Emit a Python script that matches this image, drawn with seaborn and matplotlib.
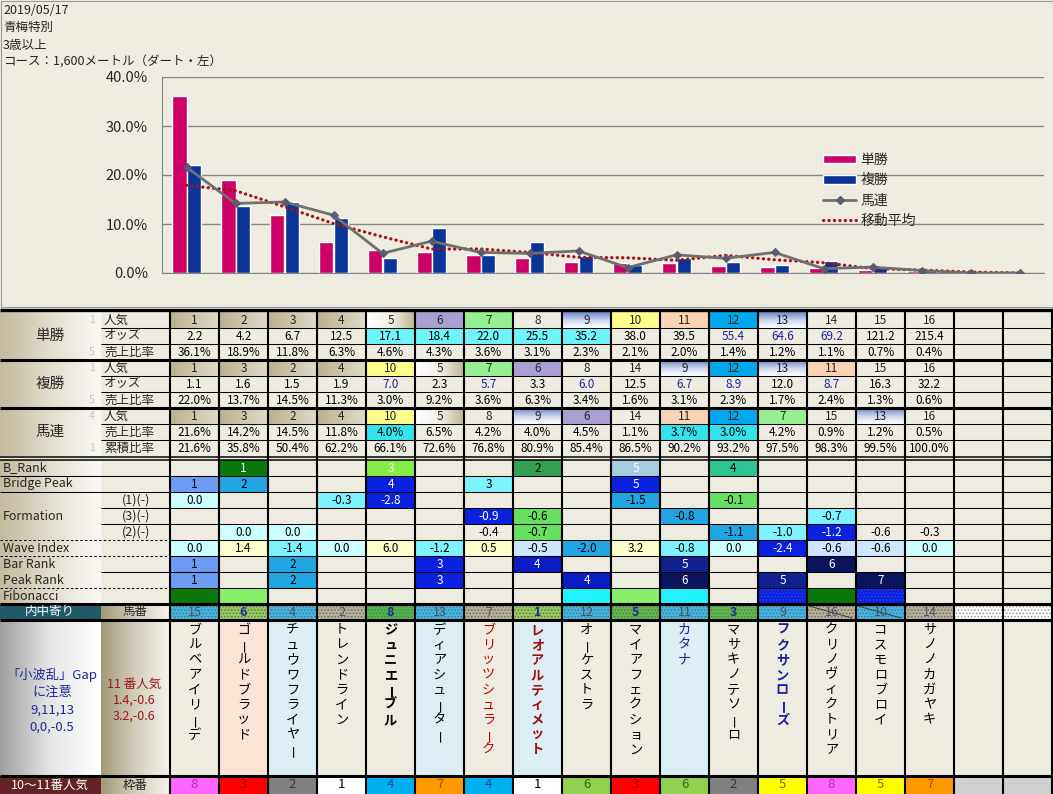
import numpy as np
import pandas as pd
import matplotlib
matplotlib.use("Agg")
import matplotlib.pyplot as plt
from matplotlib.patches import Rectangle, Patch
from matplotlib.lines import Line2D
from matplotlib.colors import LinearSegmentedColormap
import seaborn as sns

sns.set_style("white")
plt.rcParams["font.family"] = ["Noto Sans CJK JP", "DejaVu Sans"]
plt.rcParams["hatch.linewidth"] = 0.7

# ---------------- data ----------------
race_info = ["2019/05/17", "青梅特別", "3歳以上", "コース：1,600メートル（ダート・左）"]
cats = [str(i) for i in range(1, 19)]

win_pop = [1, 2, 3, 4, 5, 6, 7, 8, 9, 10, 11, 12, 13, 14, 15, 16]
win_odds = ["2.2", "4.2", "6.7", "12.5", "17.1", "18.4", "22.0", "25.5", "35.2",
            "38.0", "39.5", "55.4", "64.6", "69.2", "121.2", "215.4"]
win_ratio = [36.1, 18.9, 11.8, 6.3, 4.6, 4.3, 3.6, 3.1, 2.3, 2.1, 2.0, 1.4, 1.2, 1.1, 0.7, 0.4]

place_pop = [1, 3, 2, 4, 10, 5, 7, 6, 8, 14, 9, 12, 13, 11, 15, 16]
place_odds = ["1.1", "1.6", "1.5", "1.9", "7.0", "2.3", "5.7", "3.3", "6.0",
              "12.5", "6.7", "8.9", "12.0", "8.7", "16.3", "32.2"]
place_ratio = [22.0, 13.7, 14.5, 11.3, 3.0, 9.2, 3.6, 6.3, 3.4, 1.6, 3.1, 2.3, 1.7, 2.4, 1.3, 0.6]

quin_pop = [1, 3, 2, 4, 10, 5, 8, 9, 6, 14, 11, 12, 7, 15, 13, 16]
quin_ratio = [21.6, 14.2, 14.5, 11.8, 4.0, 6.5, 4.2, 4.0, 4.5, 1.1, 3.7, 3.0, 4.2, 0.9, 1.2, 0.5]
quin_cum = [21.6, 35.8, 50.4, 62.2, 66.1, 72.6, 76.8, 80.9, 85.4, 86.5, 90.2, 93.2, 97.5, 98.3, 99.5, 100.0]

# line series in the chart (18 slots, last two empty horses at 0)
quin_line = [21.6, 14.2, 14.5, 11.8, 4.0, 6.5, 4.2, 4.0, 4.5, 1.1, 3.7, 3.0, 4.2, 0.9, 1.2, 0.5, 0.0, 0.0]
ma_line = [17.9, 16.8, 13.5, 10.1, 7.4, 4.9, 4.9, 4.2, 3.2, 3.1, 2.6, 3.6, 2.7, 2.1, 0.9, 0.6, 0.2, 0.0]

b_rank = ["", "1", "", "", "3", "", "", "2", "", "5", "", "4", "", "", "", ""]
bridge_peak = ["1", "2", "", "", "4", "", "3", "", "", "5", "", "", "", "", "", ""]
form1 = ["0.0", "", "", "-0.3", "-2.8", "", "", "", "", "-1.5", "", "-0.1", "", "", "", ""]
form3 = ["", "", "", "", "", "", "-0.9", "-0.6", "", "", "-0.8", "", "", "-0.7", "", ""]
form2 = ["", "0.0", "0.0", "", "", "", "-0.4", "-0.7", "", "", "", "-1.1", "-1.0", "-1.2", "-0.6", "-0.3"]
wave_index = ["0.0", "1.4", "-1.4", "0.0", "6.0", "-1.2", "0.5", "-0.5", "-2.0", "3.2",
              "-0.8", "0.0", "-2.4", "-0.6", "-0.6", "0.0"]
bar_rank = ["1", "", "2", "", "", "3", "", "4", "", "", "5", "", "", "6", "", ""]
peak_rank = ["1", "", "2", "", "", "3", "", "", "4", "", "6", "", "5", "", "7", ""]

umaban = [15, 6, 4, 2, 8, 13, 7, 1, 12, 5, 11, 3, 9, 16, 10, 14]
waku = [8, 3, 2, 1, 4, 7, 4, 1, 6, 3, 6, 2, 5, 8, 5, 7]
horse_names = ["ブルベアイリーデ", "ゴールドブラッド", "チュウワフライヤー", "トレンドライン",
               "ジュニエーブル", "ディアシューター", "ブリッツシュラーク", "レオアルティメット",
               "オーケストラ", "マイアフェクション", "カタナ", "マサキノテソーロ",
               "フクサンローズ", "クリノヴィクトリア", "コスモロブロイ", "サノノカガヤキ"]
note_left = ["「小波乱」Gap", "に注意", "9,11,13", "0,0,-0.5"]
note_right = ["11 番人気", "1.4,-0.6", "3.2,-0.6"]

# ---------------- styles ----------------
BG = "#EEECE1"
PINK, NAVY = "#CC0066", "#0A3497"
C = {"lc": "#CCFFFF", "cy": "#7DF3FF", "sk": "#1FA6E3", "co": "#6B9CF2", "bl": "#0A22E0",
     "b2": "#0A1CC4", "nv": "#10208F", "dn": "#0A145E", "ye": "#FFFFCC", "lb": "#CCE6FF",
     "gr": "#66E060", "lg": "#88F06A", "dg": "#0A780A", "te": "#2CC490", "pa": "#A4CDE0",
     "bg": "#35A050", "li": "#84EE46", "cf": "#22F2FF", "": None}
DARK = {"bl", "b2", "nv", "dn", "dg", "li", "pa"}

b_rank_c = ["", "dg", "", "", "li", "", "", "bg", "", "pa", "", "te", "", "", "", ""]
bridge_c = ["co", "sk", "", "", "bl", "", "cy", "", "", "bl", "", "", "", "", "", ""]
form1_c = ["lc", "", "", "cy", "bl", "", "", "", "", "sk", "", "gr", "", "", "", ""]
form3_c = ["", "", "", "", "", "", "bl", "gr", "", "", "sk", "", "", "cy", "", ""]
form2_c = ["", "lc", "lc", "", "", "", "", "gr", "", "", "", "sk", "cy", "bl", "", ""]
wave_c = ["lc", "ye", "cy", "lc", "ye", "cy", "ye", "lb", "sk", "ye", "cy", "lc", "bl", "lb", "lb", "lc"]
bar_c = ["co", "", "sk", "", "", "bl", "", "b2", "", "", "nv", "", "", "dn", "", ""]
peak_c = ["co", "", "sk", "", "", "bl", "", "", "b2", "", "dn", "", "nv", "", "dn", ""]
fib_c = ["dg", "lg", "", "", "", "", "", "", "cf", "lg", "cf", "", "bl", "dg", "bl", ""]

POP_STYLE = {1: "tan", 2: "tan", 3: "tan", 4: "tan", 5: "tanw", 6: "#A99FD0", 7: "#96F092",
             9: "bgrad", 10: "#FFFF8C", 11: "#FAD3B4", 12: "#04A8EE", 13: "bgrad"}
UMA_C = ["#3CB6EA", "#94CC5C", "#3CB6EA", "#B8B098", "#4CB848", "#3CB6EA", "#B8B098", "#94CC5C",
         "#3CB6EA", "#5CBA48", "#3CB6EA", "#5CBA48", "#3CB6EA", "#B8B098", "#3CB6EA", "#B8B098"]
UMA_HI = {6, 8, 1, 5, 3}
WAKU_C = {1: "#FFFFFF", 2: "#808080", 3: "#FF0000", 4: "#00B0F0", 5: "#FFFF00",
          6: "#92D050", 7: "#FF9900", 8: "#FF66FF"}
WAKU_T = {1: "#000000", 2: "#3A3A3A", 3: "#A00000", 4: "#1A4A8A", 5: "#707000",
          6: "#3A6020", 7: "#9A5000", 8: "#B030B0"}
NAME_BG = {1: "#FBE4D5", 2: "#DAEEF3", 5: "#DAEEF3", 7: "#DAEEF3", 10: "#DAEEF3"}
NAME_STYLE = {4: ("#000000", "bold"), 6: ("#C00000", "normal"), 7: ("#A01010", "bold"),
              10: ("#1F1F9F", "normal"), 12: ("#1F1F9F", "bold")}
TAN_G = ["#C3BB9C", "#E2DDCE", "#FAF9F5"]
TAN2_G = ["#A39A78", "#D3CEBC", "#F4F2EC"]

# ---------------- figure ----------------
fig = plt.figure(figsize=(10.53, 7.94), dpi=100, facecolor=BG)
tb = fig.add_axes([0, 0, 1, 1])
tb.axis("off")

CW, RH = 49, 16
X_SUB, X_DAT, X_END = 101, 170, 1052


def cx(j):
    return X_DAT + CW * j


def box(x, y, w, h, fc, hatch=None, hc="#333333"):
    if fc:
        tb.add_patch(Rectangle((x, y), w, h, facecolor=fc, edgecolor="none", lw=0, zorder=1))
    if hatch:
        tb.add_patch(Rectangle((x, y), w, h, facecolor="none", edgecolor=hc, lw=0,
                               hatch=hatch, zorder=1.5))


def grad(x, y, w, h, colors, vertical=False):
    cmap = LinearSegmentedColormap.from_list("g", colors)
    arr = np.linspace(0, 1, 64)
    arr = arr[:, None] if vertical else arr[None, :]
    tb.imshow(arr, cmap=cmap, extent=(x, x + w, y + h, y), aspect="auto",
              interpolation="bilinear", origin="upper", zorder=1)


def txt(x, y, s, size=8.5, ha="center", **kw):
    tb.text(x, y, s, ha=ha, va="center", fontsize=size, zorder=5, **kw)


def hline(y, x0, x1, lw=0.75, ls="-"):
    tb.plot([x0, x1], [y, y], color="black", lw=lw, ls=ls, zorder=4, solid_capstyle="butt")


# top info
for k, s in enumerate(race_info):
    txt(3, 10 + 17.5 * k, s, size=9, ha="left")
tb.add_patch(Rectangle((0.5, 0.5), 1052, 306.5, facecolor="none", edgecolor="#9A9A9A", lw=0.8, zorder=4))

# --- upper table (odds / ratios) ---
def pop_cell(j, y, p):
    st = POP_STYLE.get(p)
    x = cx(j)
    if st == "tan":
        grad(x, y, CW, RH, ["#BBB18C", "#CDC6AA", "#E0DBC8"])
    elif st == "tanw":
        grad(x, y, CW, RH, ["#FFFFFF", "#F3F1EA", "#BFB692"])
    elif st == "bgrad":
        grad(x, y, CW, RH, ["#6A88C6", "#C9D5EC", "#FFFFFF"], vertical=True)
    elif st:
        box(x, y, CW, RH, st)
    txt(x + CW / 2, y + RH / 2, str(p))


def val_row(y, vals, bgs=(), bg="#70F4FC", blue=(), fmt="{}"):
    for j, v in enumerate(vals):
        x = cx(j)
        if j in bgs:
            box(x, y, CW, RH, bg)
        txt(x + CW / 2, y + RH / 2, fmt.format(v), color="#1F1F9F" if j in blue else "black")


blocks = [("単勝", ["人気", "オッズ", "売上比率"], ["1", "", "5"]),
          ("複勝", ["人気", "オッズ", "売上比率"], ["1", "", "5"]),
          ("馬連", ["人気", "売上比率", "累積比率"], ["4", "", "1"])]
Y0 = 312
for b, (name, rows, small) in enumerate(blocks):
    yb = Y0 + 3 * RH * b
    grad(0, yb, X_SUB, 3 * RH, TAN_G)
    txt(50, yb + 1.5 * RH, name, size=10.5)
    for r in range(3):
        txt(104, yb + r * RH + RH / 2, rows[r], ha="left", size=9)
        if small[r]:
            txt(92, yb + r * RH + RH / 2, small[r], size=7.5, color="#C4C4C4")

for j in range(16):
    pop_cell(j, Y0, win_pop[j])
    pop_cell(j, Y0 + 3 * RH, place_pop[j])
    pop_cell(j, Y0 + 6 * RH, quin_pop[j])
val_row(Y0 + RH, win_odds, bgs=range(4, 9), blue={11, 12, 13})
val_row(Y0 + 2 * RH, win_ratio, fmt="{:.1f}%")
val_row(Y0 + 4 * RH, place_odds, blue={4, 6, 8, 10, 11, 13})
val_row(Y0 + 5 * RH, place_ratio, fmt="{:.1f}%")
val_row(Y0 + 7 * RH, quin_ratio, bgs={4, 10, 11}, bg="#33E4EE", fmt="{:.1f}%")
val_row(Y0 + 8 * RH, quin_cum, fmt="{:.1f}%")

for r in [1, 2, 4, 5, 7, 8]:
    hline(Y0 + r * RH, X_SUB, X_END)
hline(309.5, 0, 1053, lw=2.4)
for r in [3, 6]:
    hline(Y0 + r * RH, 0, 1053, lw=2.2)
hline(456.5, 0, 1053, lw=1.1)
hline(459.5, 0, 1053, lw=1.1)

# --- lower table (indices) ---
Y1 = 460
grad(0, Y1, X_SUB, 9 * RH, TAN_G)
low_rows = [(b_rank, b_rank_c), (bridge_peak, bridge_c), (form1, form1_c), (form3, form3_c),
            (form2, form2_c), (wave_index, wave_c), (bar_rank, bar_c), (peak_rank, peak_c),
            ([""] * 16, fib_c)]
for r, (vals, cols) in enumerate(low_rows):
    y = Y1 + r * RH
    for j in range(16):
        key = cols[j]
        if key:
            box(cx(j), y, CW, RH, C[key], hatch="....." if (r == 8 and key == "bl") else None,
                hc="#2845F0")
        if vals[j]:
            txt(cx(j) + CW / 2, y + RH / 2, vals[j], color="white" if key in DARK else "black")

for r, lab in [(0, "B_Rank"), (1, "Bridge Peak"), (3, "Formation"), (5, "Wave Index"),
               (6, "Bar Rank"), (7, "Peak Rank"), (8, "Fibonacci")]:
    txt(3, Y1 + r * RH + RH / 2, lab, size=9, ha="left")
for r, lab in [(2, "(1)(-)"), (3, "(3)(-)"), (4, "(2)(-)")]:
    txt(136, Y1 + r * RH + RH / 2, lab, size=9)

hline(Y1 + RH, 0, X_END)
hline(Y1 + 2 * RH, 0, X_END)
hline(Y1 + 3 * RH, X_SUB, X_END)
hline(Y1 + 4 * RH, X_SUB, X_END)
hline(Y1 + 7 * RH, X_SUB, X_END)
for r in [5, 6, 8]:
    hline(Y1 + r * RH, 0, X_DAT, ls=(0, (2.5, 2)))
    hline(Y1 + r * RH, X_DAT, X_END)

# --- horse number row ---
Y2 = Y1 + 9 * RH
box(0, Y2, X_SUB, RH, "#215968")
txt(50, Y2 + RH / 2, "内中寄り", color="white", size=9)
grad(X_SUB, Y2, X_DAT - X_SUB, RH, TAN2_G)
txt(135, Y2 + RH / 2, "馬番", size=9)
for j in range(18):
    x = cx(j)
    if j < 16:
        box(x, Y2, CW, RH, UMA_C[j], hatch=".....", hc="#6A7060")
        hi = umaban[j] in UMA_HI
        txt(x + CW / 2, Y2 + RH / 2, str(umaban[j]), size=9,
            color="#1A2E9A" if hi else "#4A5060", fontweight="bold" if hi else "normal")
    else:
        box(x, Y2, CW, RH, "#FFFFFF", hatch=".....", hc="#9A9A9A")
for j in [13, 14]:
    tb.plot([cx(j) + 2, cx(j + 1) - 4], [Y2 + 2, Y2 + RH - 2], color="#303030", lw=0.6, zorder=3)
hline(Y2, 0, 1053, lw=2.2)
hline(Y2 + RH, 0, 1053, lw=2.2)

# --- names row ---
Y3, Y4 = Y2 + RH, 776
grad(0, Y3, X_SUB, Y4 - Y3, ["#A0A0A0", "#E6E6E6", "#FFFFFF"])
grad(X_SUB, Y3, X_DAT - X_SUB, Y4 - Y3, TAN2_G)
for k, s in enumerate(note_left):
    txt(52, 675 + 17.5 * k, s, size=9.5, color="#1F2A9A")
for k, s in enumerate(note_right):
    txt(134, 684 + 16 * k, s, size=9, color="#A01818")
for j, name in enumerate(horse_names):
    x = cx(j)
    box(x, Y3, CW, Y4 - Y3, NAME_BG.get(j))
    col, wt = NAME_STYLE.get(j, ("#000000", "normal"))
    for k, ch in enumerate(name):
        if ch == "ー":
            txt(x + CW / 2 + 2, 630 + 15 * k, ch, size=9.5, color=col, fontweight=wt, rotation=90)
        else:
            txt(x + CW / 2, 630 + 15 * k, ch, size=9.5, color=col, fontweight=wt)
hline(Y4, 0, 1053, lw=2.2)

# --- frame number row ---
box(0, Y4, X_SUB, 794 - Y4, "#632523")
txt(50, 785, "10～11番人気", color="white", size=9)
grad(X_SUB, Y4, X_DAT - X_SUB, 794 - Y4, TAN2_G)
txt(135, 785, "枠番", size=9)
for j in range(18):
    if j < 16:
        box(cx(j), Y4, CW, 794 - Y4, WAKU_C[waku[j]])
        txt(cx(j) + CW / 2, 785, str(waku[j]), size=9.5, color=WAKU_T[waku[j]])
    else:
        box(cx(j), Y4, CW, 794 - Y4, "#D0D0D0")

# vertical grid of the table
for j in range(19):
    x = min(cx(j), X_END)
    tb.plot([x, x], [311, 794], color="black", lw=1.5, zorder=4, solid_capstyle="butt")

tb.set_xlim(0, 1053)
tb.set_ylim(794, 0)

# ---------------- chart ----------------
ax = fig.add_axes([162 / 1053, 1 - 273 / 794, 882 / 1053, 196 / 794])
ax.set_facecolor("none")

bars = pd.DataFrame({"horse": cats[:16] * 2,
                     "kind": ["単勝"] * 16 + ["複勝"] * 16,
                     "ratio": win_ratio + place_ratio})
sns.barplot(data=bars, x="horse", y="ratio", hue="kind", order=cats, hue_order=["単勝", "複勝"],
            palette=[PINK, NAVY], width=0.58, gap=0, saturation=1, legend=False, ax=ax)

pos = np.arange(len(cats))
GRAY, DOTRED = "#6F6F6F", "#A31515"
sns.lineplot(x=pos, y=ma_line, ax=ax, color=DOTRED, lw=2.3, linestyle=(0, (0.1, 1.6)),
             dash_capstyle="round", zorder=3)
sns.lineplot(x=pos, y=quin_line, ax=ax, color=GRAY, lw=2, marker="D", markersize=4.5,
             markerfacecolor="#5C5C70", markeredgecolor="#5C5C70", zorder=4)

ax.set_xlim(-0.5, 17.5)
ax.set_ylim(0, 40)
ax.set_yticks([0, 10, 20, 30, 40])
ax.set_yticklabels([f"{v:.1f}%" for v in [0, 10, 20, 30, 40]], fontsize=10.5)
ax.set_xticks(np.arange(-0.5, 18, 1))
ax.set_xticklabels([])
ax.tick_params(axis="x", length=5, color="#868686", direction="out", width=1)
ax.tick_params(axis="y", length=0, pad=10)
ax.set_xlabel("")
ax.set_ylabel("")
ax.yaxis.grid(True, color="#868686", lw=1)
ax.xaxis.grid(False)
ax.set_axisbelow(True)
for s in ["top", "right"]:
    ax.spines[s].set_visible(False)
for s in ["left", "bottom"]:
    ax.spines[s].set_color("#868686")

handles = [Patch(facecolor=PINK), Patch(facecolor=NAVY),
           Line2D([], [], color=GRAY, lw=2, marker="D", markersize=4,
                  markerfacecolor="#5C5C70", markeredgecolor="#5C5C70"),
           Line2D([], [], color=DOTRED, lw=2.3, linestyle=(0, (0.1, 1.6)), dash_capstyle="round")]
ax.legend(handles, ["単勝", "複勝", "馬連", "移動平均"], loc="upper left",
          bbox_to_anchor=(823 / 1053, 1 - 153 / 794), bbox_transform=fig.transFigure,
          frameon=False, fontsize=10, handlelength=2.4, handleheight=0.55, labelspacing=0.45,
          handletextpad=0.3, borderpad=0, borderaxespad=0)

fig.savefig("out.png", dpi=100, facecolor=BG)
